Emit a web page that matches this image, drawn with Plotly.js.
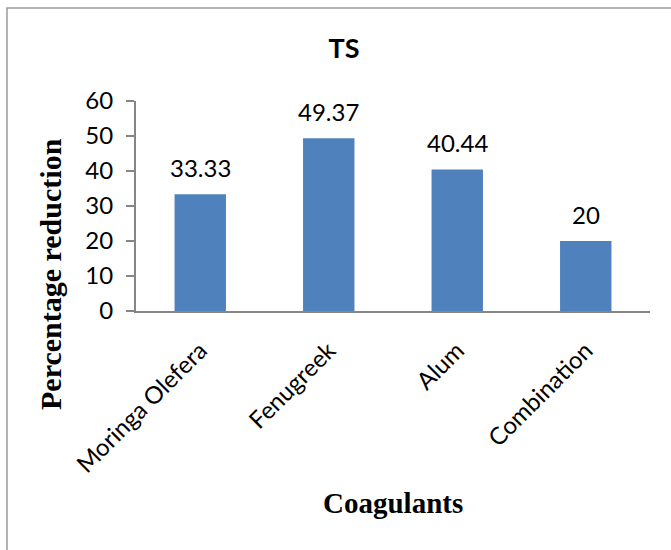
<!DOCTYPE html>
<html>
<head>
<meta charset="utf-8">
<script src="https://cdn.plot.ly/plotly-3.0.1.min.js"></script>
<style>
  html, body { margin: 0; padding: 0; background: #ffffff; }
  #chart { width: 671px; height: 550px; }
</style>
</head>
<body>
<div id="chart"></div>
<script>
// TS percentage reduction for each coagulant
var coagulants = ['Moringa Olefera', 'Fenugreek', 'Alum', 'Combination'];
var reduction = [33.33, 49.37, 40.44, 20];
var yTicks = [0, 10, 20, 30, 40, 50, 60];

var W = 671, H = 550;
var plotL = 136, plotR = 650, plotT = 101, plotB = 311;
var plotW = plotR - plotL, plotH = plotB - plotT;
function px(x) { return (x - plotL) / plotW; }
function py(y) { return (plotB - y) / plotH; }

var sansFont = 'Lato, "Open Sans", sans-serif';
var serifFont = '"Liberation Serif", "Times New Roman", serif';

var trace = {
  type: 'bar',
  x: coagulants,
  y: reduction,
  marker: { color: '#4F81BD', line: { width: 0 } },
  hoverinfo: 'x+y'
};

// value labels above each bar
var valueLabels = coagulants.map(function (c, i) {
  return {
    x: c, y: reduction[i], xref: 'x', yref: 'y',
    text: String(reduction[i]),
    showarrow: false, xanchor: 'center', yanchor: 'middle', yshift: 27,
    font: { family: sansFont, size: 24, color: '#000000' }
  };
});

var axisTitles = [
  {
    x: px(50), y: py(274), xref: 'paper', yref: 'paper',
    text: '<b>Percentage reduction</b>', textangle: -90,
    showarrow: false, xanchor: 'center', yanchor: 'middle',
    font: { family: serifFont, size: 30, color: '#000000' }
  },
  {
    x: px(393), y: py(503), xref: 'paper', yref: 'paper',
    text: '<b>Coagulants</b>',
    showarrow: false, xanchor: 'center', yanchor: 'middle',
    font: { family: serifFont, size: 29, color: '#000000' }
  }
];

var layout = {
  width: W, height: H,
  margin: { l: plotL, r: W - plotR, t: plotT, b: H - plotB, pad: 0 },
  paper_bgcolor: '#ffffff',
  plot_bgcolor: '#ffffff',
  showlegend: false,
  bargap: 0.6,
  title: {
    text: '<b>TS</b>',
    x: 344 / W, xanchor: 'center', xref: 'container',
    y: 1 - 49 / H, yanchor: 'middle', yref: 'container',
    font: { family: sansFont, size: 27, color: '#000000' }
  },
  xaxis: {
    type: 'category',
    showline: true, linecolor: '#868686', linewidth: 2,
    showgrid: false, zeroline: false,
    ticks: '', tickangle: -45, ticklabelstandoff: 14,
    tickfont: { family: sansFont, size: 24, color: '#000000' },
    automargin: false
  },
  yaxis: {
    range: [0, 60],
    tickmode: 'array', tickvals: yTicks, ticktext: yTicks.map(String),
    showline: true, linecolor: '#868686', linewidth: 2,
    showgrid: false, zeroline: false,
    ticks: 'outside', ticklen: 8, tickwidth: 1.5, tickcolor: '#868686',
    ticklabelstandoff: 8,
    tickfont: { family: sansFont, size: 24, color: '#000000' },
    automargin: false
  },
  annotations: valueLabels.concat(axisTitles),
  shapes: [{
    type: 'rect', xref: 'paper', yref: 'paper',
    x0: px(7), x1: px(720), y0: py(8), y1: py(620),
    line: { color: '#9a9a9a', width: 1.5 },
    fillcolor: 'rgba(0,0,0,0)', layer: 'below'
  }]
};

Plotly.newPlot('chart', [trace], layout, { displayModeBar: false, staticPlot: true });
</script>
</body>
</html>
